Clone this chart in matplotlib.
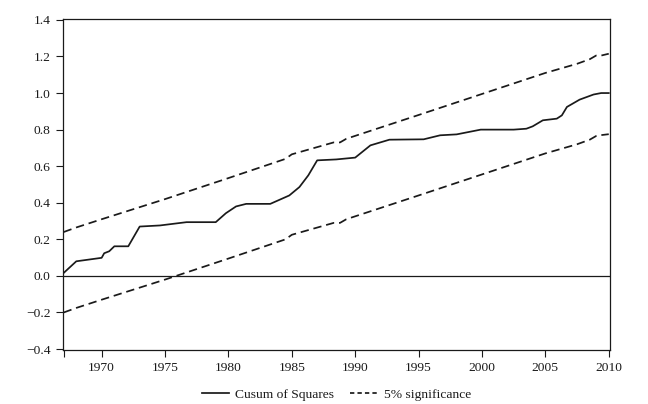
import numpy as np
import matplotlib
matplotlib.use("Agg")
import matplotlib.pyplot as plt

plt.rcParams['font.family'] = ['Liberation Serif', 'DejaVu Serif']

# cusum of squares (year, value)
cusum_years = [1967.0, 1968.0, 1970.0, 1970.2, 1970.6, 1971.0, 1972.1, 1973.0, 1974.6,
               1976.7, 1979.0, 1979.8, 1980.6, 1981.4, 1983.3, 1984.8, 1985.6, 1986.3,
               1987.0, 1988.5, 1990.0, 1991.2, 1992.7, 1995.4, 1996.7, 1998.0, 1999.9,
               2002.5, 2003.5, 2004.0, 2004.8, 2005.9, 2006.3, 2006.7, 2007.7, 2008.8,
               2009.4, 2010.0]
cusum_vals = [0.016, 0.08, 0.099, 0.124, 0.135, 0.162, 0.162, 0.27, 0.276,
              0.294, 0.294, 0.343, 0.38, 0.394, 0.394, 0.44, 0.486, 0.55,
              0.632, 0.637, 0.647, 0.714, 0.745, 0.747, 0.769, 0.774, 0.80,
              0.80, 0.805, 0.818, 0.851, 0.86, 0.878, 0.924, 0.964, 0.992,
              1.0, 1.0]

# 5% significance bounds
bound_years = [1967, 1968, 1970, 1975, 1980, 1984.5, 1985, 1988.3, 1988.8, 1989.3,
               1995, 2000, 2005, 2006.5, 2007.5, 2008.5, 2009, 2009.4, 2010]
upper = [0.24, 0.265, 0.31, 0.42, 0.535, 0.64, 0.665, 0.73, 0.73, 0.75,
         0.88, 0.995, 1.11, 1.14, 1.16, 1.185, 1.205, 1.205, 1.215]
lower = [-0.2, -0.175, -0.13, -0.02, 0.095, 0.2, 0.225, 0.29, 0.29, 0.31,
         0.44, 0.555, 0.67, 0.70, 0.72, 0.745, 0.765, 0.77, 0.775]

xticks = [1970, 1975, 1980, 1985, 1990, 1995, 2000, 2005, 2010]
yticks = [-0.4, -0.2, 0.0, 0.2, 0.4, 0.6, 0.8, 1.0, 1.2, 1.4]

ink = '#1a1a1a'

fig = plt.figure(figsize=(6.48, 4.04), dpi=100)
ax = fig.add_axes([0.0972, 0.1337, 0.8442, 0.8193])

ax.axhline(0, color=ink, lw=0.9)
ax.plot(cusum_years, cusum_vals, color=ink, lw=1.25, label='Cusum of Squares')
ax.plot(bound_years, upper, color=ink, lw=1.25, dashes=(4.8, 2.8), label='5% significance')
ax.plot(bound_years, lower, color=ink, lw=1.25, dashes=(4.8, 2.8))

ax.set_xlim(1966.95, 2010.1)
ax.set_ylim(-0.405, 1.405)
ax.set_xticks([1967] + xticks)
ax.set_xticklabels([''] + [str(x) for x in xticks])
ax.set_yticks(yticks)
ax.set_yticklabels(['\u22120.4', '\u22120.2', '0.0', '0.2', '0.4', '0.6', '0.8', '1.0', '1.2', '1.4'])
ax.tick_params(direction='out', length=5, width=0.8, colors=ink, labelsize=9.7, pad=4)
for s in ax.spines.values():
    s.set_linewidth(0.9)
    s.set_color(ink)

leg = ax.legend(loc='upper center', bbox_to_anchor=(0.5, -0.08), ncol=2, frameon=False,
                fontsize=9.7, handlelength=2.0, handletextpad=0.5, columnspacing=1.2,
                labelcolor=ink)
leg.get_lines()[1].set_dashes((2.5, 1.8))

fig.savefig('out.png', dpi=100)
